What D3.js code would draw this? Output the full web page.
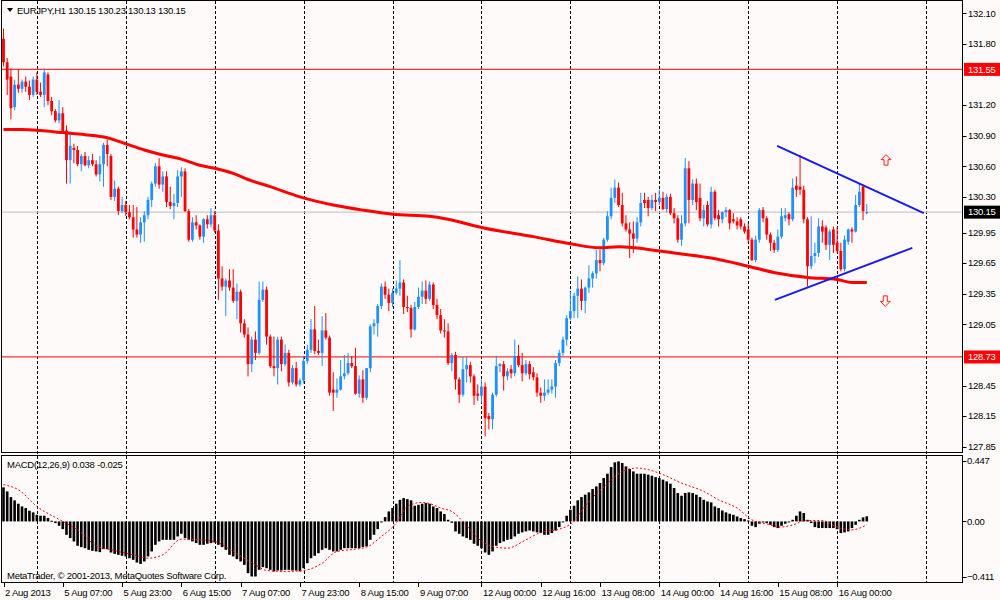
<!DOCTYPE html>
<html>
<head>
<meta charset="utf-8">
<script src="https://cdn.jsdelivr.net/npm/d3@7"></script>
<style>
body { margin: 0; background: #ffffff; }
text { font-family: "Liberation Sans", Arial, sans-serif; letter-spacing: -0.25px; }
</style>
</head>
<body>
<div id="chart"></div>
<script>
// EURJPY H1, bars from 2 Aug 2013 15:00 to 16 Aug 2013 08:00
let open = [
131.85,131.62,131.48,131.18,131.40,131.36,131.43,131.38,131.30,131.45,
131.33,131.30,131.50,131.24,131.14,131.05,131.12,130.95,130.66,130.78,
130.76,130.62,130.70,130.61,130.66,130.62,130.52,130.62,130.81,130.70,
130.30,130.38,130.16,130.22,130.15,130.10,129.98,129.93,130.05,130.12,
130.27,130.43,130.60,130.42,130.50,130.25,130.21,130.24,130.50,130.55,
130.16,129.88,130.05,130.02,129.91,130.08,130.03,130.12,129.97,129.50,
129.42,129.48,129.41,129.28,129.37,129.06,128.95,128.66,128.90,128.77,
129.29,129.39,128.93,128.64,128.62,128.90,128.66,128.77,128.48,128.62,
128.46,128.50,128.69,128.80,129.00,128.79,128.77,128.99,128.92,128.41,
128.38,128.41,128.54,128.57,128.67,128.64,128.37,128.51,128.33,128.62,
129.03,129.06,129.23,129.42,129.34,129.26,129.36,129.40,129.46,129.22,
129.21,129.00,129.22,129.32,129.38,129.30,129.44,129.24,129.14,128.99,
128.98,128.67,128.75,128.51,128.36,128.61,128.65,128.54,128.37,128.35,
128.44,128.15,128.12,128.36,128.64,128.66,128.54,128.61,128.57,128.74,
128.65,128.57,128.66,128.58,128.53,128.38,128.35,128.38,128.41,128.44,
128.67,128.77,128.90,129.11,129.18,129.33,129.40,129.28,129.41,129.50,
129.55,129.68,129.65,129.88,130.11,130.29,130.39,130.22,130.04,129.98,
129.94,129.89,130.05,130.27,130.27,130.19,130.27,130.25,130.29,130.18,
130.30,130.14,130.09,129.88,130.04,130.58,130.27,130.43,130.29,130.09,
130.22,130.03,130.35,130.12,130.08,130.15,130.17,130.08,130.06,130.08,
130.01,129.98,129.88,129.68,129.88,130.17,130.09,129.93,129.85,129.78,
129.91,130.09,130.13,130.08,130.41,130.40,130.37,130.08,129.62,129.72,
129.75,130.01,130.00,129.83,129.98,129.85,129.77,129.59,129.86,129.98,
129.96,130.22,130.40,130.15
];
let high = [
131.95,131.66,131.56,131.45,131.55,131.45,131.48,131.44,131.48,131.52,
131.42,131.56,131.52,131.28,131.16,131.25,131.18,131.00,130.94,130.82,
130.80,130.72,130.74,130.70,130.72,130.66,130.70,130.83,130.86,130.72,
130.46,130.40,130.30,130.26,130.22,130.22,130.20,130.10,130.16,130.30,
130.45,130.63,130.68,130.55,130.55,130.40,130.33,130.56,130.59,130.58,
130.18,130.10,130.12,130.03,130.09,130.12,130.19,130.16,130.03,129.62,
129.50,129.59,129.59,129.45,129.39,129.10,129.02,128.93,128.98,129.47,
129.47,129.42,128.95,128.93,128.93,128.93,128.85,128.80,128.65,128.68,
128.52,128.74,128.85,129.10,129.23,128.90,129.13,129.16,128.94,128.58,
128.52,128.70,128.75,128.77,128.74,128.82,128.55,128.60,128.62,129.05,
129.10,129.25,129.45,129.47,129.40,129.40,129.48,129.68,129.49,129.33,
129.24,129.27,129.41,129.47,129.48,129.47,129.46,129.30,129.20,129.10,
129.06,128.77,128.78,128.53,128.73,128.73,128.68,128.56,128.46,128.51,
128.48,128.18,128.38,128.74,128.67,128.69,128.62,128.65,128.90,128.85,
128.77,128.70,128.69,128.63,128.57,128.43,128.51,128.51,128.51,128.70,
128.80,128.93,129.14,129.37,129.36,129.52,129.49,129.42,129.63,129.57,
129.78,129.78,129.90,130.16,130.39,130.47,130.44,130.34,130.12,130.05,
130.06,130.10,130.34,130.34,130.30,130.32,130.34,130.37,130.35,130.33,
130.33,130.19,130.12,130.12,130.68,130.65,130.47,130.48,130.43,130.22,
130.26,130.40,130.37,130.17,130.16,130.20,130.18,130.14,130.10,130.10,
130.04,130.04,129.90,129.92,130.19,130.20,130.11,129.95,129.88,129.98,
130.19,130.19,130.15,130.48,130.50,130.71,130.41,130.10,130.11,129.85,
130.09,130.07,130.02,129.98,130.01,130.00,129.85,129.92,129.99,130.00,
130.32,130.43,130.42,130.23
];
let low = [
131.58,131.30,131.06,131.15,131.32,131.32,131.33,131.25,131.28,131.30,
131.28,131.18,131.20,131.10,131.03,131.02,130.92,130.43,130.43,130.63,
130.60,130.55,130.60,130.58,130.60,130.50,130.45,130.40,130.60,130.27,
130.26,130.12,130.14,130.11,130.08,129.90,129.90,129.85,129.86,130.08,
130.20,130.40,130.38,130.35,130.20,130.18,130.08,130.20,130.30,130.15,
129.86,129.86,129.98,129.88,129.85,129.99,130.00,129.95,129.29,129.38,
129.13,129.38,129.26,129.10,128.97,128.92,128.54,128.58,128.70,128.75,
129.27,128.85,128.62,128.54,128.46,128.59,128.64,128.44,128.46,128.44,
128.44,128.47,128.66,128.77,128.76,128.75,128.64,128.90,128.35,128.20,
128.33,128.40,128.51,128.55,128.62,128.36,128.33,128.28,128.31,128.58,
128.95,128.93,129.20,129.30,129.18,129.22,129.34,129.33,129.15,129.17,
128.92,128.99,129.20,129.25,129.25,129.28,129.20,129.10,128.96,128.92,
128.65,128.59,128.41,128.28,128.34,128.48,128.48,128.26,128.30,128.28,
127.95,128.02,128.02,128.34,128.58,128.40,128.50,128.52,128.54,128.63,
128.49,128.55,128.51,128.50,128.34,128.28,128.30,128.36,128.37,128.33,
128.64,128.74,128.84,129.09,129.11,129.11,129.19,129.16,129.36,129.41,
129.50,129.57,129.63,129.86,130.08,130.24,130.20,130.01,129.96,129.70,
129.75,129.85,130.01,130.19,130.11,130.17,130.16,130.22,130.17,130.15,
130.12,130.04,129.85,129.82,130.01,130.04,130.22,130.17,130.06,130.01,
130.01,129.99,130.07,130.01,130.04,130.10,129.98,130.04,129.98,129.98,
129.94,129.85,129.67,129.66,129.85,130.05,129.88,129.77,129.75,129.76,
129.89,130.06,130.02,130.06,130.30,130.32,130.04,129.42,129.59,129.65,
129.71,129.85,129.78,129.68,129.75,129.75,129.57,129.57,129.83,129.85,
129.95,130.20,130.07,130.13
];
let close = [
131.62,131.45,131.17,131.40,131.36,131.43,131.38,131.30,131.45,131.33,
131.30,131.52,131.24,131.14,131.05,131.12,130.94,130.66,130.80,130.76,
130.62,130.70,130.61,130.66,130.62,130.52,130.62,130.81,130.72,130.30,
130.38,130.16,130.22,130.15,130.10,129.98,129.93,130.05,130.12,130.27,
130.43,130.60,130.42,130.50,130.25,130.21,130.24,130.50,130.55,130.16,
129.88,130.05,130.02,129.91,130.08,130.03,130.12,129.97,129.50,129.42,
129.48,129.41,129.28,129.37,129.06,128.95,128.66,128.90,128.77,129.29,
129.39,128.93,128.64,128.62,128.90,128.66,128.77,128.48,128.62,128.46,
128.50,128.69,128.80,129.00,128.79,128.77,128.99,128.92,128.38,128.38,
128.41,128.54,128.57,128.67,128.64,128.37,128.51,128.33,128.62,129.03,
129.06,129.23,129.42,129.34,129.26,129.36,129.40,129.46,129.22,129.21,
129.00,129.22,129.32,129.38,129.30,129.44,129.24,129.14,128.99,128.98,
128.67,128.75,128.51,128.36,128.61,128.65,128.54,128.35,128.35,128.44,
128.13,128.12,128.36,128.64,128.66,128.54,128.59,128.57,128.74,128.65,
128.57,128.66,128.56,128.53,128.38,128.35,128.38,128.41,128.44,128.67,
128.77,128.90,129.11,129.18,129.33,129.40,129.28,129.41,129.50,129.55,
129.68,129.65,129.88,130.11,130.29,130.39,130.22,130.04,129.98,129.94,
129.89,130.05,130.24,130.24,130.19,130.27,130.25,130.29,130.18,130.30,
130.14,130.09,129.88,130.04,130.58,130.27,130.43,130.25,130.09,130.17,
130.03,130.35,130.09,130.08,130.15,130.17,130.04,130.06,130.02,130.01,
129.96,129.88,129.68,129.88,130.17,130.09,129.93,129.85,129.78,129.91,
130.11,130.12,130.08,130.39,130.37,130.37,130.08,129.62,129.72,129.75,
130.01,129.96,129.83,129.96,129.83,129.77,129.59,129.88,129.98,129.96,
130.22,130.35,130.16,130.15
];

// moving average read at selected bars
let maBars = [0,5,10,16,22,28,33,38,43,48,53,57,62,66,72,80,89,97,105,115,120,129,143,153,161,166,177,183,191,201,209,217,225,229,233];
let maValues = [130.96,130.96,130.95,130.93,130.91,130.88,130.82,130.76,130.71,130.67,130.61,130.58,130.53,130.47,130.40,130.30,130.22,130.17,130.13,130.11,130.08,130.00,129.91,129.84,129.80,129.81,129.77,129.74,129.70,129.62,129.55,129.51,129.49,129.46,129.46];

// MACD(12,26,9) main histogram, one value per bar
let macdMain = [
0.252,0.222,0.180,0.156,0.131,0.111,0.099,0.079,0.067,0.049,
0.042,0.042,0.025,0.005,-0.012,-0.032,-0.057,-0.099,-0.123,-0.148,
-0.180,-0.190,-0.198,-0.210,-0.217,-0.222,-0.227,-0.205,-0.205,-0.230,
-0.240,-0.247,-0.254,-0.259,-0.272,-0.284,-0.304,-0.314,-0.296,-0.259,
-0.222,-0.173,-0.148,-0.136,-0.136,-0.136,-0.136,-0.111,-0.091,-0.123,
-0.136,-0.148,-0.160,-0.173,-0.173,-0.165,-0.160,-0.156,-0.173,-0.190,
-0.210,-0.247,-0.259,-0.279,-0.296,-0.321,-0.383,-0.407,-0.407,-0.358,
-0.338,-0.346,-0.358,-0.370,-0.363,-0.363,-0.358,-0.358,-0.363,-0.363,
-0.370,-0.346,-0.309,-0.272,-0.254,-0.235,-0.210,-0.198,-0.210,-0.222,
-0.222,-0.210,-0.198,-0.198,-0.198,-0.198,-0.198,-0.190,-0.185,-0.136,
-0.099,-0.057,-0.007,0.032,0.074,0.099,0.131,0.160,0.173,0.165,
0.156,0.116,0.123,0.131,0.136,0.131,0.111,0.099,0.074,0.055,
0.012,-0.010,-0.074,-0.091,-0.111,-0.123,-0.136,-0.165,-0.180,-0.198,
-0.230,-0.247,-0.222,-0.180,-0.160,-0.148,-0.136,-0.131,-0.111,-0.091,
-0.081,-0.074,-0.067,-0.074,-0.081,-0.086,-0.099,-0.099,-0.086,-0.067,
-0.042,-0.003,0.042,0.086,0.116,0.156,0.180,0.198,0.215,0.240,
0.259,0.284,0.321,0.353,0.402,0.437,0.444,0.432,0.407,0.388,
0.370,0.353,0.353,0.353,0.346,0.338,0.328,0.321,0.309,0.296,
0.279,0.247,0.210,0.190,0.210,0.215,0.210,0.198,0.180,0.160,
0.148,0.141,0.111,0.099,0.081,0.067,0.057,0.049,0.037,0.025,
0.017,0.007,-0.032,-0.042,-0.017,-0.007,-0.012,-0.025,-0.042,-0.049,
-0.032,-0.017,-0.007,0.012,0.042,0.074,0.062,0.012,-0.012,-0.042,
-0.049,-0.049,-0.049,-0.049,-0.049,-0.057,-0.086,-0.081,-0.074,-0.049,
-0.025,0.012,0.030,0.038
];
// signal line read at selected bars
let sigBars = [0,4,9,16,20,25,30,35,39,43,48,53,57,62,68,71,76,81,86,90,95,98,102,106,109,113,116,118,121,124,128,132,136,141,145,150,153,158,163,167,171,174,178,183,189,193,198,202,207,209,214,216,221,225,229,233];
let sigValues = [0.272,0.235,0.111,0.000,-0.062,-0.180,-0.215,-0.247,-0.272,-0.247,-0.131,-0.136,-0.148,-0.222,-0.321,-0.363,-0.370,-0.363,-0.309,-0.222,-0.205,-0.190,-0.111,-0.012,0.111,0.141,0.123,0.099,0.074,0.000,-0.123,-0.185,-0.198,-0.136,-0.081,-0.057,-0.020,0.148,0.280,0.370,0.395,0.383,0.346,0.284,0.222,0.160,0.099,0.012,-0.025,-0.042,-0.017,0.007,0.007,-0.042,-0.062,-0.025];

// axis labels (131.50 and 128.75 sit under the level flags)
let priceTicks = [132.10,131.80,131.20,130.90,130.60,130.30,129.95,129.65,129.35,129.05,128.45,128.15,127.85];
let macdTicks = [0.447, 0.00, -0.411];
let timeTickBars = [0,16,32,48,64,80,96,112,129,145,161,177,193,209,225];
let timeTickLabels = ["2 Aug 2013","5 Aug 07:00","5 Aug 23:00","6 Aug 15:00","7 Aug 07:00","7 Aug 23:00","8 Aug 15:00","9 Aug 07:00","12 Aug 00:00","12 Aug 16:00","13 Aug 08:00","14 Aug 00:00","14 Aug 16:00","15 Aug 08:00","16 Aug 00:00"];
let dayStartBars = [9,33,57,81,105,129,153,177,201,225,249];

// horizontal levels, triangle lines, arrows
let levels = [131.55, 128.73];
let lastPrice = 130.15;
let trendLines = [
  {b1: 208.8, p1: 130.80, b2: 248.4, p2: 130.14},
  {b1: 208.2, p1: 129.29, b2: 245.3, p2: 129.80}
];
let arrowMarks = [
  {bar: 238.2, price: 130.66, dir: "up"},
  {bar: 238.0, price: 129.28, dir: "down"}
];

let width = 1000;
let height = 600;
let plotRight = 962.5;

let svg = d3.select("#chart")
    .append("svg")
        .attr("width", width)
        .attr("height", height)
        .style("background-color", "#fffafa")
        .style("display", "block")
;

let x = d3.scaleLinear().domain([0, 233]).range([3.5, 3.5 + 233 * 3.705]);
let y = d3.scaleLinear().domain([127.85, 132.10]).range([446.7, 13.3]);
let ym = d3.scaleLinear().domain([-0.411, 0.447]).range([577, 461]);

let bars = d3.range(close.length);

// clip areas for the two panes
let defs = svg.append("defs");
defs.append("clipPath").attr("id", "clipMain")
    .append("rect").attr("x", 2).attr("y", 1).attr("width", plotRight - 2).attr("height", 451);
defs.append("clipPath").attr("id", "clipMacd")
    .append("rect").attr("x", 2).attr("y", 456).attr("width", plotRight - 2).attr("height", 126);

// vertical day separators (both panes)
svg.append("g").selectAll("line").data(dayStartBars).enter().append("line")
    .attr("x1", d => Math.round(x(d)) + 0.5)
    .attr("x2", d => Math.round(x(d)) + 0.5)
    .attr("y1", 1)
    .attr("y2", 583)
    .attr("stroke", "#000")
    .attr("stroke-width", 1)
    .attr("stroke-dasharray", "3,2")
;

let main = svg.append("g").attr("clip-path", "url(#clipMain)");

// bid line
main.append("line")
    .attr("x1", 2).attr("x2", plotRight)
    .attr("y1", y(lastPrice)).attr("y2", y(lastPrice))
    .attr("stroke", "#c8c8c8").attr("stroke-width", 1.2);

// horizontal levels
main.selectAll(".level").data(levels).enter().append("line")
    .attr("class", "level")
    .attr("x1", 2).attr("x2", plotRight)
    .attr("y1", d => y(d)).attr("y2", d => y(d))
    .attr("stroke", "#ff3030").attr("stroke-width", 1.2);

// candles
let bull = "#1e90ff", bear = "#ff0000";
let candleColor = i => close[i] >= open[i] ? bull : bear;

main.append("g").selectAll("line").data(bars).enter().append("line")
    .attr("x1", i => x(i)).attr("x2", i => x(i))
    .attr("y1", i => y(high[i])).attr("y2", i => y(low[i]))
    .attr("stroke", candleColor)
    .attr("stroke-width", 1)
;
main.append("g").selectAll("rect").data(bars).enter().append("rect")
    .attr("x", i => x(i) - 1.4)
    .attr("width", 2.8)
    .attr("y", i => y(Math.max(open[i], close[i])))
    .attr("height", i => Math.max(1, Math.abs(y(open[i]) - y(close[i]))))
    .attr("fill", candleColor)
;

// moving average
main.append("path")
    .datum(maBars)
    .attr("d", d3.line().x(b => x(b)).y((b, k) => y(maValues[k])).curve(d3.curveMonotoneX))
    .attr("fill", "none")
    .attr("stroke", "#ff0000")
    .attr("stroke-width", 3)
;

// triangle lines
main.selectAll(".trend").data(trendLines).enter().append("line")
    .attr("class", "trend")
    .attr("x1", d => x(d.b1)).attr("y1", d => y(d.p1))
    .attr("x2", d => x(d.b2)).attr("y2", d => y(d.p2))
    .attr("stroke", "#1a1aee").attr("stroke-width", 2)
;

// hollow arrows
let arrowPath = function(d) {
    let cx = x(d.bar), cy = y(d.price);
    let s = d.dir === "up" ? 1 : -1;
    let pts = [[0, -5.5], [5, -0.5], [2, -0.5], [2, 5], [-2, 5], [-2, -0.5], [-5, -0.5]];
    return "M" + pts.map(p => (cx + p[0]) + "," + (cy + s * p[1])).join("L") + "Z";
};
main.selectAll(".arrow").data(arrowMarks).enter().append("path")
    .attr("class", "arrow")
    .attr("d", arrowPath)
    .attr("fill", "#fff4f4")
    .attr("stroke", "#ff2020")
    .attr("stroke-width", 1)
;

// MACD pane
let macdG = svg.append("g").attr("clip-path", "url(#clipMacd)");
macdG.append("g").selectAll("rect").data(bars).enter().append("rect")
    .attr("x", i => x(i) - 1.3)
    .attr("width", 2.6)
    .attr("y", i => Math.min(ym(0), ym(macdMain[i])))
    .attr("height", i => Math.max(1, Math.abs(ym(macdMain[i]) - ym(0))))
    .attr("fill", "#000")
;
macdG.append("path")
    .datum(sigBars)
    .attr("d", d3.line().x(b => x(b)).y((b, k) => ym(sigValues[k])).curve(d3.curveMonotoneX))
    .attr("fill", "none")
    .attr("stroke", "#ff0000")
    .attr("stroke-width", 1)
    .attr("stroke-dasharray", "2,2")
;

// pane frames
svg.append("rect").attr("x", 1.5).attr("y", 0.5).attr("width", plotRight - 1.5).attr("height", 452)
    .attr("fill", "none").attr("stroke", "#000");
svg.append("rect").attr("x", 1.5).attr("y", 455.5).attr("width", plotRight - 1.5).attr("height", 127)
    .attr("fill", "none").attr("stroke", "#000");

// price axis
let fontSize = "9.5px";
let axisG = svg.append("g");
axisG.selectAll(".ptick").data(priceTicks).enter().append("line")
    .attr("x1", plotRight).attr("x2", plotRight + 4)
    .attr("y1", d => Math.round(y(d)) + 0.5).attr("y2", d => Math.round(y(d)) + 0.5)
    .attr("stroke", "#000");
axisG.selectAll(".plabel").data(priceTicks).enter().append("text")
    .attr("x", 968)
    .attr("y", d => y(d))
    .attr("dy", "0.35em")
    .attr("font-size", fontSize)
    .attr("fill", "#000")
    .text(d => d.toFixed(2));

// MACD axis
axisG.selectAll(".mtick").data(macdTicks).enter().append("line")
    .attr("x1", plotRight).attr("x2", plotRight + 4)
    .attr("y1", d => Math.round(ym(d)) + 0.5).attr("y2", d => Math.round(ym(d)) + 0.5)
    .attr("stroke", "#000");
axisG.selectAll(".mlabel").data(macdTicks).enter().append("text")
    .attr("x", 967)
    .attr("y", d => ym(d))
    .attr("dy", "0.35em")
    .attr("font-size", fontSize)
    .attr("fill", "#000")
    .text(d => d === 0 ? "0.00" : d3.format(".3f")(d));

// price flags
let flag = function(price, bg) {
    let g = svg.append("g");
    g.append("rect").attr("x", 964).attr("y", y(price) - 6.5).attr("width", 36).attr("height", 13).attr("fill", bg);
    g.append("text").attr("x", 968).attr("y", y(price)).attr("dy", "0.35em")
        .attr("font-size", fontSize).attr("fill", "#fff").text(price.toFixed(2));
};
levels.forEach(p => flag(p, "#ff0000"));
flag(lastPrice, "#000");

// time axis
let timeG = svg.append("g");
timeG.selectAll("line").data(timeTickBars).enter().append("line")
    .attr("x1", b => Math.round(x(b)) + 0.5).attr("x2", b => Math.round(x(b)) + 0.5)
    .attr("y1", 583).attr("y2", 587)
    .attr("stroke", "#000");
timeG.selectAll("text").data(timeTickBars).enter().append("text")
    .attr("x", b => x(b) + 1.5)
    .attr("y", 596)
    .attr("font-size", fontSize)
    .attr("fill", "#000")
    .text((b, k) => timeTickLabels[k]);

// header texts
svg.append("path").attr("d", "M7,8L13,8L10,12Z").attr("fill", "#000");
svg.append("text").attr("x", 17).attr("y", 14).attr("font-size", fontSize).attr("fill", "#000")
    .text("EURJPY,H1  " + [close[233], high[233], low[233], close[233]].map(v => v.toFixed(2)).join(" "));
svg.append("text").attr("x", 7).attr("y", 468).attr("font-size", fontSize).attr("fill", "#000")
    .text("MACD(12,26,9) " + macdMain[233].toFixed(3) + " " + sigValues[sigValues.length - 1].toFixed(3));
svg.append("text").attr("x", 7).attr("y", 579).attr("font-size", fontSize).attr("fill", "#000")
    .text("MetaTrader, © 2001-2013, MetaQuotes Software Corp.");
</script>
</body>
</html>
